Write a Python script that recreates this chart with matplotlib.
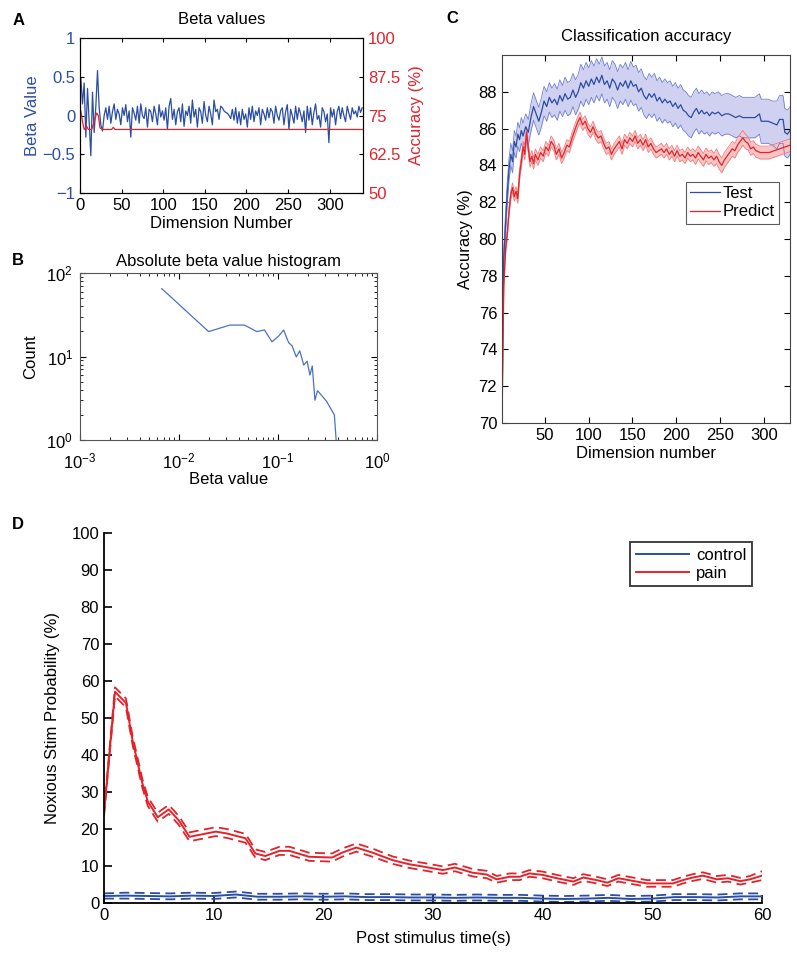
import numpy as np
import matplotlib
matplotlib.use('Agg')
import matplotlib.pyplot as plt
from matplotlib.ticker import LogLocator

plt.rcParams['font.family'] = ['Liberation Sans', 'DejaVu Sans']
plt.rcParams['font.size'] = 12

BLUE = '#2b4ea2'
RED = '#e3222a'

# ---- panel A: beta value per dimension (every 2nd dimension) ----
beta_values = [0.48, 0.15, 0.42, -0.28, 0.35, -0.10, -0.52, 0.30, -0.22, 0.12, 0.58, 0.10, -0.12, -0.20,
               0.00, 0.10, -0.05, 0.12, -0.10, 0.05, 0.15, -0.05, 0.08, 0.02, -0.12, 0.10, 0.00, 0.14, -0.08, 0.06,
               -0.28, 0.10, 0.03, -0.06, 0.12, -0.10, 0.15, 0.00, -0.04, 0.10, -0.15, 0.08, 0.05, -0.08, 0.12, 0.02,
               -0.12, 0.14, -0.02, 0.06,
               -0.06, 0.10, -0.18, 0.12, 0.22, -0.05, 0.08, -0.12, 0.05, 0.10, -0.08, 0.15, -0.14, 0.06, 0.00, 0.12,
               -0.10, 0.20, -0.02, 0.08, -0.15, 0.10, 0.05, -0.10, 0.18, 0.00, -0.08, 0.12, 0.02, -0.12, 0.20, 0.05,
               0.08, -0.05, 0.12,
               0.10, 0.06, 0.04, 0.03, 0.00, -0.04, 0.08, -0.06, 0.10, -0.10, 0.05, -0.12, 0.08, -0.05, 0.02,
               -0.15, 0.10, -0.05, 0.12, -0.08, 0.06, 0.00, 0.10, -0.12, 0.08, 0.02, -0.06, 0.10, -0.03, 0.09, 0.05,
               -0.10, 0.12, 0.00, -0.06, 0.06, 0.10, -0.12, 0.05, 0.14, -0.18, 0.08, 0.00, -0.10, 0.12, -0.05, 0.10,
               0.02, -0.08, 0.06,
               -0.22, 0.12, -0.06, 0.10, -0.12, 0.04, 0.15, -0.05, 0.00, -0.15, 0.10, 0.05, -0.08, 0.02, -0.35, 0.10,
               -0.02, 0.08, -0.12, 0.05, 0.12, -0.04, 0.10, 0.00, -0.08, 0.12, 0.03, -0.05, 0.10, 0.02, 0.06, -0.02,
               0.12, 0.04, 0.10]
acc_dims = [1, 3, 5, 8, 10, 14, 17, 20, 22, 24, 27, 38, 40, 42, 340]
acc_values = [76.5, 73.0, 70.5, 71.5, 70.5, 70.5, 73.0, 75.8, 75.0, 71.0, 70.5, 70.5, 71.2, 70.5, 70.5]

# ---- panel B: absolute beta value histogram ----
hist_beta = [0.0067, 0.0199, 0.0327, 0.0458, 0.0611, 0.0731, 0.0869, 0.1016, 0.114, 0.128, 0.139,
             0.153, 0.166, 0.182, 0.197, 0.210, 0.222, 0.236, 0.251, 0.310, 0.371, 0.392]
hist_count = [65, 19.9, 23.8, 23.8, 19.9, 20.8, 15.0, 17.6, 20.8, 14.7, 13.4,
              9.9, 11.7, 7.9, 8.8, 6.0, 7.7, 3.0, 3.9, 2.9, 2.0, 0.8]

# ---- panel C: classification accuracy ----
test_dim = [1, 3, 5, 7, 9, 11, 13, 15, 17, 19,
            21, 23, 25, 28, 31, 34, 37, 40, 43, 46,
            49, 52, 55, 58, 61, 64, 67, 70, 73, 76,
            79, 82, 85, 88, 91, 94, 97, 100, 103, 106,
            109, 112, 115, 118, 121, 124, 127, 130, 133, 136,
            139, 142, 145, 148, 151, 154, 157, 160, 163, 166,
            169, 172, 175, 178, 181, 184, 187, 190, 193, 196,
            199, 202, 205, 208, 211, 214, 217, 220, 223, 226,
            229, 232, 235, 238, 241, 244, 248, 252, 256, 260,
            264, 268, 272, 276, 280, 285, 290, 295, 297, 305,
            310, 315, 318, 322, 324, 327, 330]
test_mean = [74.5, 79.0, 80.8, 82.5, 83.8, 84.6, 84.2, 85.3, 85.0, 85.7,
             85.4, 85.9, 85.6, 86.1, 85.8, 86.6, 87.2, 86.8, 86.4, 86.9,
             87.5, 87.2, 87.7, 87.4, 87.6, 87.3, 87.8, 87.5, 87.9, 87.6,
             87.7, 88.1, 87.7, 88.0, 88.5, 88.2, 88.6, 88.3, 88.7, 88.4,
             88.8, 88.5, 88.9, 88.4, 88.6, 88.2, 88.7, 88.5, 88.1, 88.5,
             88.3, 88.6, 88.2, 88.6, 88.3, 88.4, 88.0, 88.2, 87.8, 87.6,
             87.9, 87.7, 87.9, 87.5, 87.7, 87.4, 87.6, 87.4, 87.5, 87.2,
             87.4, 87.1, 87.3, 87.0, 86.9, 86.7, 86.6, 86.9, 87.1, 86.8,
             87.0, 86.8, 86.9, 86.7, 86.9, 86.8, 86.9, 86.7, 86.8, 86.8,
             86.7, 86.6, 86.7, 86.6, 86.6, 86.6, 86.6, 86.8, 86.4, 86.4,
             86.3, 86.2, 86.5, 86.5, 85.8, 85.7, 85.9]
test_err = [0.3, 0.5, 0.6, 0.6, 0.6, 0.6, 0.6, 0.6, 0.6, 0.65,
            0.65, 0.7, 0.7, 0.7, 0.7, 0.75, 0.75, 0.75, 0.75, 0.8,
            0.8, 0.8, 0.8, 0.8, 0.85, 0.85, 0.85, 0.85, 0.9, 0.9,
            0.9, 0.9, 0.95, 0.95, 1.0, 1.0, 1.0, 1.0, 1.0, 1.0,
            1.0, 1.0, 1.0, 1.0, 1.0, 1.0, 1.0, 1.0, 1.0, 1.0,
            1.0, 1.0, 1.0, 1.05, 1.05, 1.05, 1.05, 1.05, 1.05, 1.05,
            1.1, 1.1, 1.1, 1.1, 1.1, 1.1, 1.1, 1.1, 1.1, 1.1,
            1.1, 1.1, 1.1, 1.1, 1.1, 1.1, 1.1, 1.1, 1.1, 1.1,
            1.1, 1.1, 1.1, 1.1, 1.1, 1.1, 1.1, 1.1, 1.1, 1.1,
            1.1, 1.1, 1.1, 1.1, 1.1, 1.1, 1.1, 1.1, 1.2, 1.2,
            1.2, 1.3, 1.3, 1.3, 1.3, 1.3, 1.3]
pred_dim = [1, 3, 5, 7, 9, 11, 13, 15, 17, 19,
            21, 23, 25, 27, 29, 31, 33, 35, 37, 39,
            42, 45, 48, 51, 54, 57, 60, 63, 66, 69,
            72, 75, 78, 81, 84, 87, 90, 93, 96, 99,
            102, 105, 108, 111, 114, 117, 120, 123, 126, 129,
            132, 135, 138, 141, 144, 147, 150, 153, 156, 159,
            162, 165, 168, 171, 174, 177, 180, 183, 186, 189,
            192, 195, 198, 201, 204, 207, 210, 213, 216, 219,
            222, 225, 228, 231, 234, 237, 240, 243, 246, 249,
            252, 255, 258, 261, 264, 267, 270, 273, 276, 279,
            282, 285, 288, 291, 296, 300, 306, 312, 318, 324, 330]
pred_mean = [70.0, 77.5, 79.4, 80.3, 81.5, 82.4, 82.8, 82.3, 82.6, 82.2,
             83.5, 84.2, 85.0, 84.6, 85.8, 84.9, 84.2, 84.5, 84.1, 84.6,
             84.3, 84.7, 84.5, 85.0, 84.8, 85.3, 85.1, 84.6, 84.9, 84.4,
             84.7, 85.1, 85.0, 85.5, 85.9, 86.3, 86.6, 86.2, 86.4, 86.0,
             85.8, 86.1, 85.7, 85.5, 85.6, 85.2, 84.9, 85.0, 84.6, 84.9,
             85.1, 85.3, 84.9, 85.4, 85.2, 85.5, 85.3, 85.6, 85.2, 85.4,
             85.1, 85.4, 85.0, 85.2, 84.9, 84.7, 84.8, 84.9, 84.7, 84.9,
             84.6, 84.8, 84.5, 84.8, 84.5, 84.6, 84.4, 84.7, 84.5, 84.6,
             84.4, 84.7, 84.5, 84.3, 84.6, 84.4, 84.5, 84.3, 84.5, 84.2,
             84.0, 84.3, 84.5, 84.7, 84.9, 84.8, 85.1, 85.3, 85.5, 85.3,
             85.2, 84.9, 85.0, 84.8, 84.7, 84.7, 84.7, 84.8, 84.9, 85.0, 85.1]
pred_err = [0.1, 0.2, 0.25, 0.25, 0.25, 0.25, 0.25, 0.25, 0.25, 0.25,
            0.3, 0.3, 0.3, 0.3, 0.3, 0.3, 0.3, 0.3, 0.3, 0.3,
            0.3, 0.3, 0.3, 0.3, 0.3, 0.3, 0.3, 0.3, 0.3, 0.3,
            0.3, 0.3, 0.3, 0.3, 0.3, 0.3, 0.3, 0.3, 0.3, 0.3,
            0.3, 0.3, 0.3, 0.3, 0.3, 0.3, 0.3, 0.3, 0.3, 0.3,
            0.3, 0.3, 0.3, 0.3, 0.3, 0.3, 0.3, 0.3, 0.3, 0.3,
            0.3, 0.3, 0.3, 0.3, 0.3, 0.3, 0.3, 0.3, 0.3, 0.3,
            0.3, 0.3, 0.3, 0.3, 0.3, 0.3, 0.3, 0.3, 0.3, 0.3,
            0.35, 0.35, 0.35, 0.35, 0.35, 0.35, 0.35, 0.35, 0.4, 0.4,
            0.4, 0.4, 0.4, 0.4, 0.4, 0.4, 0.4, 0.4, 0.4, 0.4,
            0.35, 0.35, 0.35, 0.35, 0.35, 0.35, 0.35, 0.35, 0.35, 0.35, 0.35]

# ---- panel D: noxious stim probability ----
pain_t = [0, 1.0, 2.0, 2.6, 3.5, 4.0, 4.9, 5.9, 6.8, 7.8,
          9.0, 10.2, 11.2, 12.9, 13.8, 14.7, 16.0, 16.9, 18.7, 20.8,
          21.7, 23.0, 24.5, 26.3, 27.8, 28.8, 30.9, 32.0, 33.6, 34.9,
          35.8, 37.0, 37.9, 38.8, 40.0, 41.3, 42.8, 43.7, 44.9, 45.9,
          46.9, 48.2, 49.5, 51.0, 51.9, 52.8, 53.7, 54.6, 55.9, 56.9,
          58.0, 58.9, 60.0]
pain_mean = [24.2, 57.1, 54.1, 44.0, 32.3, 27.4, 23.2, 25.3, 22.4, 17.9,
             18.6, 19.3, 18.8, 17.5, 13.4, 12.7, 14.1, 14.1, 12.5, 12.3,
             13.6, 15.0, 13.6, 11.6, 10.5, 10.0, 8.9, 9.6, 8.2, 7.7,
             6.4, 7.1, 7.1, 8.0, 7.6, 6.7, 5.8, 6.9, 6.2, 5.5,
             6.7, 6.0, 5.3, 5.3, 5.3, 6.2, 6.9, 7.4, 6.4, 6.7,
             5.9, 6.4, 7.4]
pain_sem = [0.6, 1.2, 1.2, 1.2, 1.2, 1.2, 1.2, 1.2, 1.2, 1.2,
            1.2, 1.2, 1.2, 1.2, 1.1, 1.1, 1.1, 1.1, 1.1, 1.1,
            1.1, 1.1, 1.1, 1.0, 1.0, 1.0, 1.0, 1.0, 1.0, 1.0,
            0.9, 0.9, 0.9, 0.9, 0.9, 0.9, 0.9, 0.9, 0.9, 0.9,
            0.9, 0.9, 0.9, 0.9, 0.9, 0.9, 0.9, 0.9, 0.9, 0.9,
            0.9, 0.9, 1.2]
ctrl_t = [0, 2, 4, 6, 8, 10, 12, 14, 16, 18, 20, 22, 24, 26, 28, 30,
          32, 34, 36, 38, 40, 42, 44, 46, 48, 50, 52, 54, 56, 58, 60]
ctrl_mean = [1.9, 2.0, 1.9, 1.8, 2.0, 1.9, 2.3, 1.7, 1.7, 1.8, 1.7, 1.8, 1.6, 1.6, 1.5, 1.5,
             1.4, 1.5, 1.4, 1.4, 1.2, 1.1, 1.2, 1.4, 1.1, 1.2, 1.6, 1.6, 1.5, 1.8, 1.8]
ctrl_sem = [0.7, 0.8, 0.8, 0.8, 0.8, 0.8, 0.8, 0.8, 0.8, 0.8, 0.8, 0.8, 0.8, 0.8, 0.8, 0.8,
            0.8, 0.8, 0.8, 0.8, 0.8, 0.8, 0.8, 0.8, 0.8, 0.8, 0.8, 0.8, 0.8, 0.8, 0.8]

fig = plt.figure(figsize=(7.97, 9.57), dpi=100)

# ===== A =====
axA = fig.add_axes([0.1004, 0.7983, 0.3551, 0.1620])
beta_dims = np.arange(len(beta_values)) * 2 + 1
axA.plot(beta_dims, beta_values, color=BLUE, lw=0.9)
axA.set_xlim(0, 340)
axA.set_ylim(-1, 1)
axA.set_yticks([-1, -0.5, 0, 0.5, 1])
axA.set_yticklabels(['\u22121', '\u22120.5', '0', '0.5', '1'])
axA.set_xticks([0, 50, 100, 150, 200, 250, 300])
axA.tick_params(direction='in', length=3, top=True, labelsize=12)
axA.tick_params(axis='y', colors='black', labelcolor=BLUE)
axA.set_ylabel('Beta Value', color=BLUE, labelpad=2)
axA.set_xlabel('Dimension Number', labelpad=2)
axA.set_title('Beta values', fontsize=12, pad=10)
axA2 = axA.twinx()
axA2.plot(acc_dims, acc_values, color=RED, lw=0.9)
axA2.set_ylim(50, 100)
axA2.set_yticks([50, 62.5, 75, 87.5, 100])
axA2.set_yticklabels(['50', '62.5', '75', '87.5', '100'])
axA2.tick_params(direction='in', length=3, colors='black', labelcolor=RED, labelsize=12)
axA2.set_ylabel('Accuracy (%)', color=RED, labelpad=6)

# ===== B =====
axB = fig.add_axes([0.1004, 0.5402, 0.3726, 0.1745])
axB.plot(hist_beta, hist_count, color='#4a72c0', lw=0.9)
axB.set_xscale('log')
axB.set_yscale('log')
axB.set_xlim(1e-3, 1)
axB.set_ylim(1, 100)
axB.xaxis.set_major_locator(LogLocator(base=10, numticks=10))
axB.tick_params(which='both', direction='in', top=True, right=True, labelsize=12)
axB.tick_params(which='major', length=4)
axB.tick_params(which='minor', length=2)
axB.tick_params(axis='x', pad=8)
axB.tick_params(axis='y', pad=5)
axB.set_xlabel('Beta value', labelpad=1)
axB.set_ylabel('Count', labelpad=6)
axB.set_title('Absolute beta value histogram', fontsize=12, pad=5)
for sp in axB.spines.values():
    sp.set_linewidth(0.8)
    sp.set_color('#555555')

# ===== C =====
axC = fig.add_axes([0.6299, 0.5580, 0.3614, 0.3845])
td = np.array(test_dim)
tm = np.array(test_mean)
te = np.array(test_err)
pdm = np.array(pred_dim)
pm = np.array(pred_mean)
pe = np.array(pred_err)
axC.fill_between(td, tm - te, tm + te, color='#d0d0f0', lw=0)
axC.plot(td, tm - te, color='#7080d0', lw=0.6)
axC.plot(td, tm + te, color='#7080d0', lw=0.6)
axC.fill_between(pdm, pm - pe, pm + pe, color='#f8c4c4', lw=0)
axC.plot(pdm, pm - pe, color='#f07c7c', lw=0.6)
axC.plot(pdm, pm + pe, color='#f07c7c', lw=0.6)
axC.plot(td, tm, color=BLUE, lw=0.9, label='Test')
axC.plot(pdm, pm, color=RED, lw=0.9, label='Predict')
axC.set_xlim(1, 330)
axC.set_ylim(70, 90)
axC.set_yticks(np.arange(70, 89, 2))
axC.set_xticks([50, 100, 150, 200, 250, 300])
axC.tick_params(direction='in', length=4, top=True, right=True, labelsize=12)
axC.set_xlabel('Dimension number', labelpad=2)
axC.set_ylabel('Accuracy (%)', labelpad=4)
axC.set_title('Classification accuracy', fontsize=12, pad=10)
legC = axC.legend(loc='upper right', bbox_to_anchor=(0.96, 0.655), fontsize=12,
                  frameon=True, fancybox=False, edgecolor='#333333', handlelength=1.8,
                  handletextpad=0.15, borderpad=0.25, labelspacing=0.2, borderaxespad=0)
legC.get_frame().set_linewidth(0.8)
for sp in axC.spines.values():
    sp.set_linewidth(0.8)
    sp.set_color('#444444')

# ===== D =====
axD = fig.add_axes([0.1305, 0.0564, 0.8256, 0.3866])
ct = np.array(ctrl_t)
cm = np.array(ctrl_mean)
cs = np.array(ctrl_sem)
ptt = np.array(pain_t)
pmn = np.array(pain_mean)
ps = np.array(pain_sem)
dash = (0, (5.5, 3))
axD.plot(ct, cm, color=BLUE, lw=1.4, label='control')
axD.plot(ct, cm + cs, color=BLUE, lw=1.3, ls=dash)
axD.plot(ct, cm - cs, color=BLUE, lw=1.3, ls=dash)
axD.plot(ptt, pmn, color=RED, lw=1.4, label='pain')
axD.plot(ptt, pmn + ps, color=RED, lw=1.3, ls=dash)
axD.plot(ptt, pmn - ps, color=RED, lw=1.3, ls=dash)
axD.set_xlim(0, 60)
axD.set_ylim(0, 100)
axD.set_xticks(np.arange(0, 61, 10))
axD.set_yticks(np.arange(0, 101, 10))
axD.spines['top'].set_visible(False)
axD.spines['right'].set_visible(False)
axD.spines['left'].set_linewidth(1.3)
axD.spines['bottom'].set_linewidth(1.3)
axD.tick_params(direction='in', length=6, width=1.2, labelsize=12)
axD.set_xlabel('Post stimulus time(s)', labelpad=6)
axD.set_ylabel('Noxious Stim Probability (%)', labelpad=8)
legD = axD.legend(loc='upper right', bbox_to_anchor=(0.985, 0.975), fontsize=12,
                  frameon=True, fancybox=False, edgecolor='black', handlelength=3.2,
                  handletextpad=0.4, borderpad=0.35, labelspacing=0.15, borderaxespad=0)
legD.get_frame().set_linewidth(1.3)

# panel letters
for lab, x, y in [('A', 0.023, 0.979), ('B', 0.023, 0.728), ('C', 0.567, 0.981), ('D', 0.023, 0.452)]:
    fig.text(x, y, lab, fontsize=12, fontweight='bold', ha='center', va='center')

fig.savefig('out.png', dpi=100)
